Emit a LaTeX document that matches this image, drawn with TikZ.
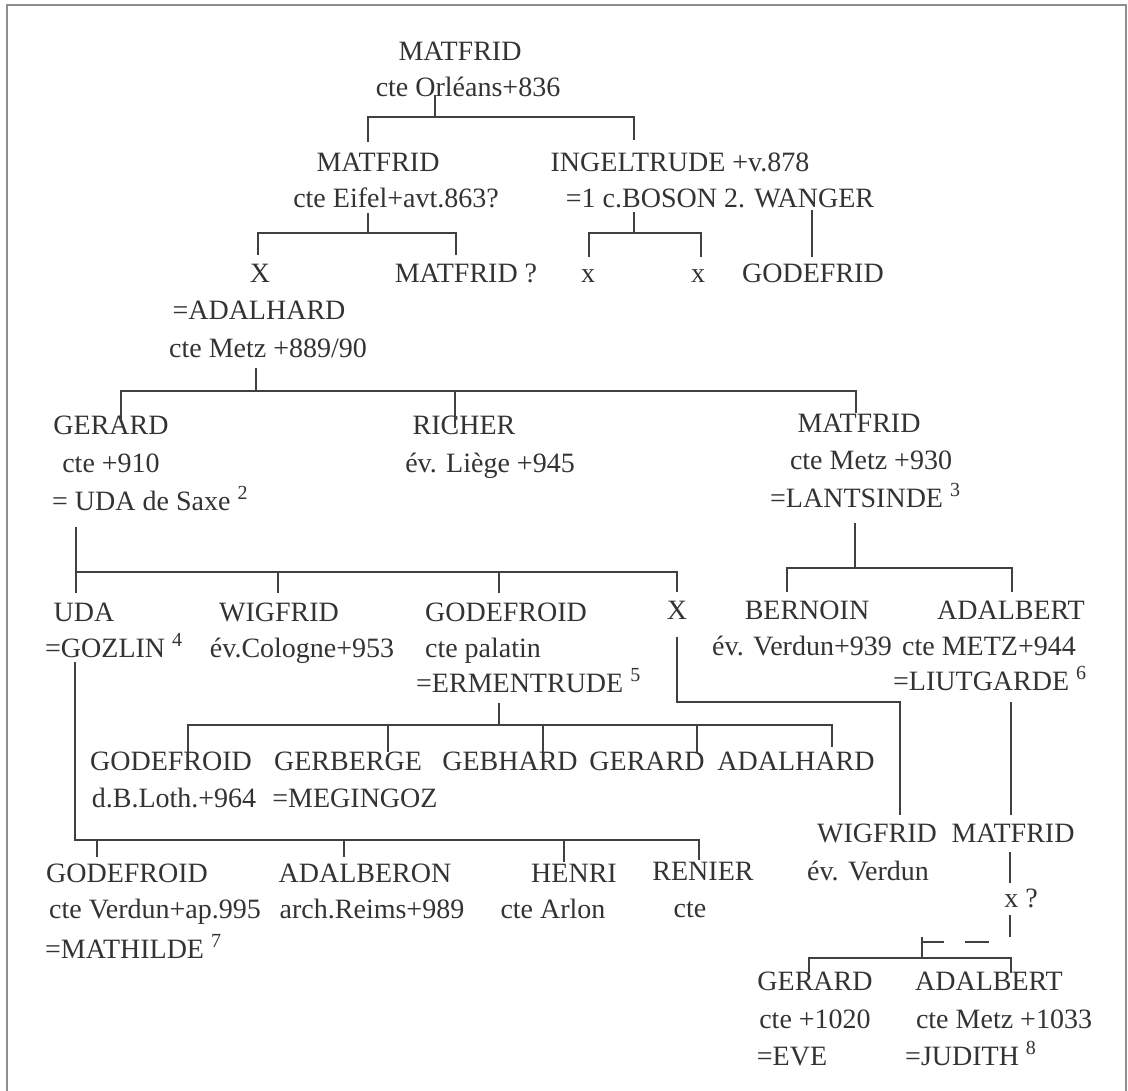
\documentclass[tikz,border=0pt]{standalone}
\usepackage{fontspec}
\setmainfont{Liberation Serif}
\definecolor{ink}{HTML}{333333}
\definecolor{linec}{HTML}{404040}
\definecolor{framec}{HTML}{8E8E8E}
\newcommand\fnote[1]{\raisebox{11pt}{\fontsize{20}{20}\selectfont #1}}
\begin{document}
\begin{tikzpicture}[x=1pt,y=-1pt,
  txt/.style={font=\fontsize{28}{33}\selectfont, text=ink, inner sep=0pt, anchor=base},
  link/.style={draw=linec, line width=1.6pt},
  frameline/.style={draw=framec, line width=1.8pt}]
\useasboundingbox (0,0) rectangle (1128,1091);
\draw[frameline] (7,1091) -- (7,5) -- (1126,5) -- (1126,1091);

% ---------- texts ----------
\node[txt] (m0a) at (460,61) {MATFRID};
\node[txt] (m0b) at (468,97) {cte Orléans+836};
\node[txt] (m1a) at (378,172) {MATFRID};
\node[txt] (m1b) at (396,208) {cte Eifel+avt.863?};
\node[txt] (ing1) at (680,172) {INGELTRUDE +v.878};
\node[txt] (ing2) at (720,208) {=1 c.BOSON 2. WANGER};
\node[txt] (xa) at (260,283) {X};
\node[txt] (m2) at (466,283) {MATFRID ?};
\node[txt] (x1) at (588,283) {x};
\node[txt] (x2) at (698,283) {x};
\node[txt] (godf) at (813,283) {GODEFRID};
\node[txt] (ad1) at (259,320) {=ADALHARD};
\node[txt] (ad2) at (268,358) {cte Metz +889/90};

\node[txt] (ger1) at (111,435) {GERARD};
\node[txt] (ger2) at (111,472) {cte +910};
\node[txt,anchor=base west] (ger3) at (52,510) {= UDA de Saxe \fnote{2}};
\node[txt] (ric1) at (464,435) {RICHER};
\node[txt] (ric2) at (490,472) {év. Liège +945};
\node[txt] (mt1) at (859,432) {MATFRID};
\node[txt] (mt2) at (871,469) {cte Metz +930};
\node[txt,anchor=base west] (mt3) at (770,507) {=LANTSINDE \fnote{3}};

\node[txt] (uda1) at (84,621) {UDA};
\node[txt,anchor=base west] (uda2) at (45,657) {=GOZLIN \fnote{4}};
\node[txt] (wig1) at (279,621) {WIGFRID};
\node[txt] (wig2) at (302,657) {év.Cologne+953};
\node[txt] (god1) at (506,621) {GODEFROID};
\node[txt] (god2) at (483,657) {cte palatin};
\node[txt,anchor=base west] (god3) at (416,692) {=ERMENTRUDE \fnote{5}};
\node[txt] (xb) at (677,619) {X};
\node[txt] (ber1) at (807,619) {BERNOIN};
\node[txt] (ber2) at (802,655) {év. Verdun+939};
\node[txt] (adb1) at (1011,619) {ADALBERT};
\node[txt] (adb2) at (989,655) {cte METZ+944};
\node[txt,anchor=base west] (adb3) at (893,690) {=LIUTGARDE \fnote{6}};

\node[txt] (gf1) at (171,770) {GODEFROID};
\node[txt] (gf2) at (174,807) {d.B.Loth.+964};
\node[txt] (gb1) at (348,770) {GERBERGE};
\node[txt] (gb2) at (355,807) {=MEGINGOZ};
\node[txt] (geb) at (510,770) {GEBHARD};
\node[txt] (grd) at (647,770) {GERARD};
\node[txt] (adh) at (796,770) {ADALHARD};

\node[txt] (wv1) at (877,842) {WIGFRID};
\node[txt] (wv2) at (868,880) {év. Verdun};
\node[txt] (mf1) at (1013,842) {MATFRID};
\node[txt] (xq) at (1021,907) {x ?};

\node[txt] (gv1) at (127,882) {GODEFROID};
\node[txt] (gv2) at (155,918) {cte Verdun+ap.995};
\node[txt,anchor=base west] (gv3) at (45,958) {=MATHILDE \fnote{7}};
\node[txt] (ab1) at (365,882) {ADALBERON};
\node[txt] (ab2) at (372,918) {arch.Reims+989};
\node[txt] (he1) at (574,882) {HENRI};
\node[txt] (he2) at (553,918) {cte Arlon};
\node[txt] (re1) at (703,880) {RENIER};
\node[txt] (re2) at (690,917) {cte};

\node[txt] (gl1) at (815,990) {GERARD};
\node[txt] (gl2) at (815,1028) {cte +1020};
\node[txt] (gl3) at (792,1065) {=EVE};
\node[txt] (al1) at (989,990) {ADALBERT};
\node[txt] (al2) at (1004,1028) {cte Metz +1033};
\node[txt,anchor=base west] (al3) at (905,1065) {=JUDITH \fnote{8}};

% ---------- junction coordinates ----------
\coordinate (s0) at (435,95);  \coordinate (b0) at (435,117);
\coordinate (k0a) at (368,142); \coordinate (k0b) at (634,140);
\coordinate (s1) at (368,213); \coordinate (b1) at (368,233);
\coordinate (k1a) at (258,255); \coordinate (k1b) at (456,255);
\coordinate (s2) at (634,212); \coordinate (b2) at (634,233);
\coordinate (k2a) at (589,257); \coordinate (k2b) at (701,257);
\coordinate (s2w) at (812,210); \coordinate (k2w) at (812,257);
\coordinate (s3) at (256,368); \coordinate (b3) at (256,391);
\coordinate (k3a) at (121,420); \coordinate (k3b) at (455,428); \coordinate (k3c) at (856,413);
\coordinate (s4) at (76,527); \coordinate (b4) at (76,572);
\coordinate (k4a) at (76,593); \coordinate (k4b) at (278,593);
\coordinate (k4c) at (499,593); \coordinate (k4d) at (677,592);
\coordinate (s5) at (855,523); \coordinate (b5) at (855,568);
\coordinate (k5a) at (787,592); \coordinate (k5b) at (1012,592);
\coordinate (s6) at (677,637); \coordinate (b6) at (677,702); \coordinate (k6) at (900,815);
\coordinate (s7) at (1011,702); \coordinate (k7) at (1011,815);
\coordinate (s8) at (499,703); \coordinate (b8) at (499,725);
\coordinate (k8a) at (188,752); \coordinate (k8b) at (388,752); \coordinate (k8c) at (543,752);
\coordinate (k8d) at (697,753); \coordinate (k8e) at (832,747);
\coordinate (s9) at (75,662); \coordinate (b9) at (75,840);
\coordinate (k9a) at (97,857); \coordinate (k9b) at (344,857);
\coordinate (k9c) at (564,862); \coordinate (k9d) at (699,860);
\coordinate (s10) at (1010,852); \coordinate (e10) at (1010,883);
\coordinate (s10b) at (1010,915); \coordinate (e10b) at (1010,937);
\coordinate (s12) at (922,937); \coordinate (b12) at (922,958);
\coordinate (d1a) at (922,942); \coordinate (d1b) at (944,942);
\coordinate (d2a) at (965,942); \coordinate (d2b) at (989,942);
\coordinate (k12a) at (809,973); \coordinate (k12b) at (1011,973);

% ---------- connectors ----------
\draw[link] (s0) -- (b0) -| (k0a);  \draw[link] (b0) -| (k0b);
\draw[link] (s1) -- (b1) -| (k1a);  \draw[link] (b1) -| (k1b);
\draw[link] (s2) -- (b2) -| (k2a);  \draw[link] (b2) -| (k2b);
\draw[link] (s2w) -- (k2w);
\draw[link] (s3) -- (b3) -| (k3a);  \draw[link] (b3) -| (k3b);  \draw[link] (b3) -| (k3c);
\draw[link] (s4) -- (b4) -- (k4a);  \draw[link] (b4) -| (k4b);
\draw[link] (b4) -| (k4c);  \draw[link] (b4) -| (k4d);
\draw[link] (s5) -- (b5) -| (k5a);  \draw[link] (b5) -| (k5b);
\draw[link] (s6) -- (b6) -| (k6);
\draw[link] (s7) -- (k7);
\draw[link] (s8) -- (b8) -| (k8a);  \draw[link] (b8) -| (k8b);  \draw[link] (b8) -| (k8c);
\draw[link] (b8) -| (k8d);  \draw[link] (b8) -| (k8e);
\draw[link] (s9) -- (b9) -| (k9a);  \draw[link] (b9) -| (k9b);
\draw[link] (b9) -| (k9c);  \draw[link] (b9) -| (k9d);
\draw[link] (s10) -- (e10);  \draw[link] (s10b) -- (e10b);
\draw[link] (s12) -- (b12);
\draw[link] (d1a) -- (d1b);  \draw[link] (d2a) -- (d2b);
\draw[link] (b12) -| (k12a);  \draw[link] (b12) -| (k12b);
\end{tikzpicture}
\end{document}
